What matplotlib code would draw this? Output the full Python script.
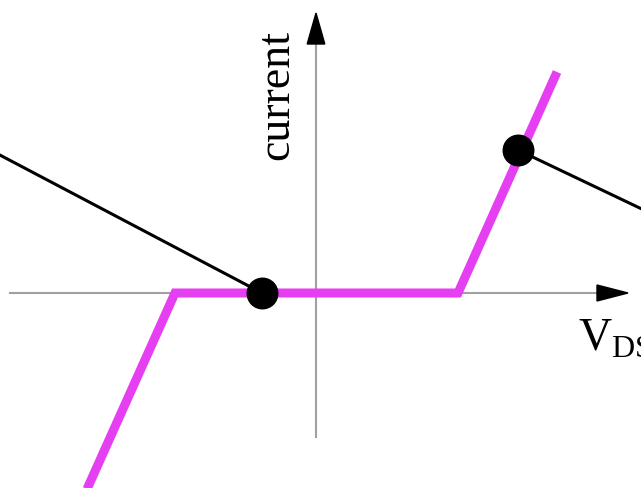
import matplotlib
matplotlib.use("Agg")
import matplotlib.pyplot as plt
from matplotlib.patches import Polygon

# Diagram data (units: axis crossing at origin, 1 unit ~ 100 px)
curve_x = [-2.33, -1.41, 1.42, 2.41]
curve_y = [-2.05, 0.0, 0.0, 2.21]

dot_x = [-0.54, 2.02]
dot_y = [0.0, 1.43]

left_lead_x = [-3.20, -0.54]
left_lead_y = [1.40, 0.0]
right_lead_x = [2.02, 3.30]
right_lead_y = [1.43, 0.82]

haxis_x = [-3.06, 2.80]
vaxis_y = [-1.44, 2.52]
haxis_tip = 3.12
vaxis_tip = 2.80
head_len = 0.31
head_half = 0.08

plt.rcParams['mathtext.fontset'] = 'custom'
plt.rcParams['mathtext.rm'] = 'Liberation Serif'

fig = plt.figure(figsize=(6.41, 4.88), dpi=100)
ax = fig.add_axes([0, 0, 1, 1])
ax.set_xlim(-3.16, 3.25)
ax.set_ylim(-1.95, 2.93)
ax.axis('off')

# axes lines (gray) with black arrowheads
ax.plot(haxis_x, [0, 0], color='#a0a0a0', lw=1.5, zorder=1)
ax.plot([0, 0], vaxis_y, color='#a0a0a0', lw=1.5, zorder=1)
ax.add_patch(Polygon([[haxis_tip, 0], [haxis_tip - head_len, head_half],
                      [haxis_tip - head_len, -head_half]], color='black', zorder=2))
ax.add_patch(Polygon([[0, vaxis_tip], [-head_half * 1.1, vaxis_tip - head_len],
                      [head_half * 1.1, vaxis_tip - head_len]], color='black', zorder=2))

# characteristic
ax.plot(curve_x, curve_y, color='#e63ff2', lw=6.5, solid_joinstyle='miter',
        solid_capstyle='butt', zorder=3)

# leader lines and dots
ax.plot(left_lead_x, left_lead_y, color='black', lw=2.2, zorder=4)
ax.plot(right_lead_x, right_lead_y, color='black', lw=2.2, zorder=4)
ax.plot(dot_x, dot_y, 'o', color='black', markersize=22, zorder=5)

ax.text(-0.39, 1.98, 'current', rotation=90, ha='center', va='center',
        fontsize=33, family='Liberation Serif')
ax.text(2.62, -0.57, r'V$_{\mathrm{DS}}$', ha='left', va='baseline',
        fontsize=33, family='Liberation Serif')

fig.savefig('out.png', dpi=100)
